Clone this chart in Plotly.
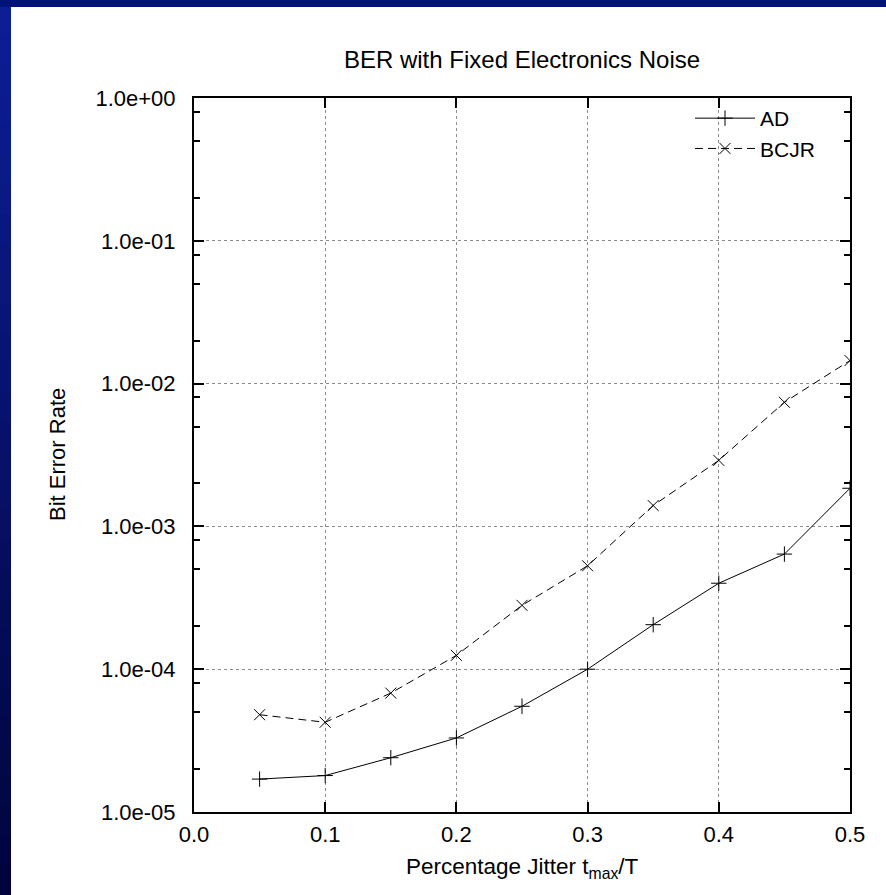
import plotly.graph_objects as go

# ---- data ----
jitter = [0.05, 0.10, 0.15, 0.20, 0.25, 0.30, 0.35, 0.40, 0.45, 0.50]
ber_ad = [1.7e-5, 1.8e-5, 2.4e-5, 3.3e-5, 5.5e-5, 1.0e-4, 2.05e-4, 4.0e-4, 6.4e-4, 1.85e-3]
ber_bcjr = [4.8e-5, 4.25e-5, 6.8e-5, 1.25e-4, 2.8e-4, 5.3e-4, 1.4e-3, 2.9e-3, 7.4e-3, 1.45e-2]

y_tick_vals = [1e-5, 1e-4, 1e-3, 1e-2, 1e-1, 1e0]
y_tick_text = ["1.0e-05", "1.0e-04", "1.0e-03", "1.0e-02", "1.0e-01", "1.0e+00"]
y_minor_vals = [m * 10.0 ** k for k in range(-5, 0) for m in (2, 5, 8)]
x_tick_vals = [0.0, 0.1, 0.2, 0.3, 0.4, 0.5]

FONT = "Liberation Sans, Arial, Helvetica, sans-serif"

W, H = 886, 895
L, R, T, B = 194, 36, 98, 83
pw, ph = W - L - R, H - T - B


def px2paper_x(px):
    return (px - L) / pw


def px2paper_y(py):
    return (H - B - py) / ph


fig = go.Figure()

fig.add_trace(go.Scatter(
    x=jitter, y=ber_ad, name="AD", mode="lines+markers",
    line=dict(color="black", width=1),
    marker=dict(symbol="cross-thin-open", size=11, color="black",
                line=dict(color="black", width=1)),
))
fig.add_trace(go.Scatter(
    x=jitter, y=ber_bcjr, name="BCJR", mode="lines+markers",
    line=dict(color="black", width=1, dash="8px,5px"),
    marker=dict(symbol="x-thin-open", size=11, color="black",
                line=dict(color="black", width=1)),
))

# ---- background frame (blue border with gradient on the left) ----
shapes = []
shapes.append(dict(type="rect", xref="paper", yref="paper", layer="below",
                   x0=px2paper_x(-5), x1=px2paper_x(W + 5),
                   y0=px2paper_y(-5), y1=px2paper_y(H + 5),
                   fillcolor="#00127a", line=dict(width=0)))
n = 30
top_c = (12, 30, 150)
bot_c = (1, 4, 60)
for i in range(n):
    t = i / (n - 1)
    c = tuple(int(round(top_c[j] + (bot_c[j] - top_c[j]) * t)) for j in range(3))
    y0 = 7 + (H - 7) * i / n
    y1 = 7 + (H - 7) * (i + 1) / n + 1
    shapes.append(dict(type="rect", xref="paper", yref="paper", layer="below",
                       x0=px2paper_x(-5), x1=px2paper_x(11),
                       y0=px2paper_y(y0), y1=px2paper_y(y1),
                       fillcolor="rgb(%d,%d,%d)" % c, line=dict(width=0)))
shapes.append(dict(type="rect", xref="paper", yref="paper", layer="below",
                   x0=px2paper_x(11), x1=px2paper_x(W + 5),
                   y0=px2paper_y(7), y1=px2paper_y(H + 5),
                   fillcolor="white", line=dict(width=0)))

annotations = [
    dict(text="Bit Error Rate", xref="paper", yref="paper",
         x=px2paper_x(57), y=0.5, textangle=-90, showarrow=False,
         xanchor="center", yanchor="middle",
         font=dict(family=FONT, size=22, color="black")),
    dict(text="Percentage Jitter t<sub>max</sub>/T", xref="paper", yref="paper",
         x=0.5, y=px2paper_y(868), showarrow=False,
         xanchor="center", yanchor="middle",
         font=dict(family=FONT, size=22.5, color="black")),
]

axis_common = dict(
    showline=True, linecolor="black", linewidth=2, mirror="ticks",
    ticks="inside", ticklen=10, tickwidth=1.5, tickcolor="black",
    showgrid=True, gridcolor="#8c8c8c", griddash="dot", gridwidth=1.2,
    zeroline=False,
    tickfont=dict(family=FONT, size=22, color="black"),
)

fig.update_layout(
    width=W, height=H,
    margin=dict(l=L, r=R, t=T, b=B, pad=0),
    paper_bgcolor="white", plot_bgcolor="rgba(0,0,0,0)",
    title=dict(text="BER with Fixed Electronics Noise", x=522 / W,
               xanchor="center", y=1 - 60 / H, yanchor="middle",
               font=dict(family=FONT, size=24, color="black")),
    xaxis=dict(range=[0, 0.5], tickvals=x_tick_vals, tickformat=".1f",
               ticklabelstandoff=2, **axis_common),
    yaxis=dict(type="log", range=[-5, 0], tickvals=y_tick_vals, ticktext=y_tick_text,
               ticklabelstandoff=12,
               minor=dict(tickmode="array", tickvals=y_minor_vals, ticks="inside",
                          ticklen=6, tickwidth=1.5, tickcolor="black", showgrid=False),
               **axis_common),
    showlegend=True,
    legend=dict(x=px2paper_x(820), xanchor="right", y=1.0, yanchor="top",
                bgcolor="rgba(0,0,0,0)", borderwidth=0,
                font=dict(family=FONT, size=21, color="black"),
                itemwidth=60, tracegroupgap=0),
    shapes=shapes,
    annotations=annotations,
)

fig.write_html("out.html", config={"displayModeBar": False},
               post_script="document.body.style.margin='0';")
